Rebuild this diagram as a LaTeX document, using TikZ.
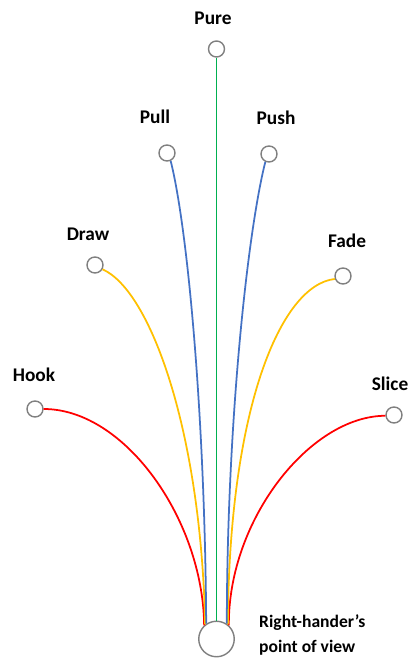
\documentclass[tikz,border=0pt]{standalone}
\usepackage{fontspec}
\setmainfont{Carlito}
\usetikzlibrary{positioning}
\definecolor{puregreen}{RGB}{0, 176, 80}
\definecolor{pullblue}{RGB}{68, 114, 196}
\definecolor{drawgold}{RGB}{255, 192, 0}
\definecolor{hookred}{RGB}{255, 0, 0}
\definecolor{ballgray}{RGB}{128, 128, 128}

\tikzset{
  ball/.style={circle, draw=ballgray, line width=0.8pt, fill=white, inner sep=0pt, minimum size=0.32cm},
  shotname/.style={font=\fontsize{11}{13}\selectfont\bfseries},
  flight/.style={line width=1pt}
}

\begin{document}
\begin{tikzpicture}
  \useasboundingbox (0,0) rectangle (8.22,13.16);
  % ball flights
  \node[ball, minimum size=0.71cm] (base) at (4.33,0.38) {};
  \node[ball] (pure) at (4.33,12.18) {};
  \node[ball] (pull) at (3.34,10.10) {};
  \node[ball] (push) at (5.38,10.08) {};
  \node[ball] (draw) at (1.90,7.86) {};
  \node[ball] (fade) at (6.86,7.64) {};
  \node[ball] (hook) at (0.70,4.98) {};
  \node[ball] (slice) at (7.88,4.86) {};
  \draw[flight, hookred] (hook.east) .. controls (2.50,4.98) and (4.06,2.76) .. (base.132);
  \draw[flight, hookred] (slice.185) .. controls (6.20,4.84) and (4.56,2.76) .. (base.48);
  \draw[flight, drawgold] (draw.-30) .. controls (3.00,7.36) and (4.02,4.56) .. (base.128);
  \draw[flight, drawgold] (fade.200) .. controls (5.60,7.46) and (4.58,4.96) .. (base.52);
  \draw[flight, pullblue] (pull.-65) .. controls (3.76,8.56) and (4.10,4.76) .. (base.124);
  \draw[flight, pullblue] (push.-115) .. controls (4.96,8.56) and (4.54,4.76) .. (base.56);
  \draw[flight, puregreen] (pure.south) -- (base.north);
  % labels
  \node[shotname] (purelbl) at (4.26,12.80) {Pure};
  \node[shotname] (pulllbl) at (3.10,10.82) {Pull};
  \node[shotname] (pushlbl) at (5.52,10.80) {Push};
  \node[shotname] (drawlbl) at (1.76,8.48) {Draw};
  \node[shotname] (fadelbl) at (6.94,8.34) {Fade};
  \node[shotname] (hooklbl) at (0.68,5.66) {Hook};
  \node[shotname] (slicelbl) at (7.80,5.48) {Slice};
  \node[font=\fontsize{10}{14}\selectfont\bfseries, align=left, anchor=west] (view) at (5.06,0.46) {Right-hander’s\\point of view};
\end{tikzpicture}
\end{document}
